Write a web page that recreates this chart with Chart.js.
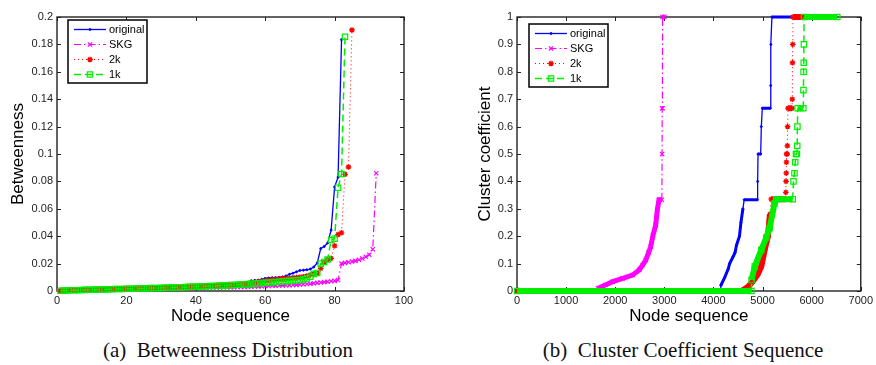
<!DOCTYPE html>
<html>
<head>
<meta charset="utf-8">
<script src="https://cdn.jsdelivr.net/npm/chart.js@4/dist/chart.umd.min.js"></script>
<style>
body { margin: 0; background: #fff; width: 876px; height: 365px; overflow: hidden; position: relative; }
canvas { position: absolute; top: 0; }
#betwChart { left: 0; }
#clusChart { left: 438px; }
.cap { position: absolute; top: 338px; font-family: "Liberation Serif", "Times New Roman", serif; font-size: 21px; color: #111; white-space: nowrap; transform: translateX(-50%); }
</style>
</head>
<body>
<canvas id="betwChart" width="438" height="330"></canvas>
<canvas id="clusChart" width="438" height="330"></canvas>
<div class="cap" style="left:228px">(a)&nbsp; Betweenness Distribution</div>
<div class="cap" style="left:683px">(b)&nbsp; Cluster Coefficient Sequence</div>
<script>
const seriesNames = ['original', 'SKG', '2k', '1k'];

// (a) betweenness, sorted per node (node sequence 1..N)
const betwOriginal = [0.0002,0.0003,0.0004,0.0005,0.0006,0.0007,0.0008,0.0009,0.0010,0.0010,
    0.0011,0.0012,0.0012,0.0013,0.0014,0.0014,0.0015,0.0016,0.0016,0.0017,
    0.0018,0.0018,0.0019,0.0020,0.0020,0.0021,0.0022,0.0022,0.0023,0.0024,
    0.0025,0.0025,0.0026,0.0027,0.0028,0.0029,0.0030,0.0031,0.0032,0.0033,
    0.0034,0.0035,0.0036,0.0037,0.0038,0.0040,0.0041,0.0043,0.0045,0.0047,
    0.0049,0.0051,0.0053,0.0056,0.0060,0.0075,0.0077,0.0079,0.0085,0.0092,
    0.0095,0.0097,0.0098,0.0100,0.0103,0.0110,0.0122,0.0130,0.0140,0.0150,
    0.0152,0.0155,0.0160,0.0175,0.0205,0.0310,0.0325,0.0350,0.0445,0.0760,
    0.0830,0.1835];
const betwSKG = [0.0001,0.0002,0.0003,0.0004,0.0004,0.0005,0.0006,0.0006,0.0007,0.0008,
    0.0008,0.0009,0.0009,0.0010,0.0010,0.0011,0.0011,0.0012,0.0012,0.0013,
    0.0013,0.0014,0.0014,0.0015,0.0015,0.0016,0.0016,0.0017,0.0017,0.0018,
    0.0018,0.0019,0.0019,0.0020,0.0020,0.0021,0.0021,0.0022,0.0022,0.0023,
    0.0023,0.0024,0.0024,0.0025,0.0025,0.0026,0.0026,0.0027,0.0027,0.0028,
    0.0028,0.0029,0.0029,0.0030,0.0031,0.0032,0.0033,0.0034,0.0035,0.0036,
    0.0037,0.0038,0.0039,0.0040,0.0041,0.0042,0.0043,0.0044,0.0045,0.0047,
    0.0049,0.0051,0.0053,0.0056,0.0059,0.0062,0.0065,0.0068,0.0071,0.0074,
    0.0080,0.0200,0.0205,0.0210,0.0215,0.0220,0.0228,0.0237,0.0250,0.0265,
    0.0305,0.0860];
const betw2k = [0.0003,0.0004,0.0005,0.0006,0.0007,0.0007,0.0008,0.0009,0.0010,0.0010,
    0.0011,0.0012,0.0012,0.0013,0.0014,0.0014,0.0015,0.0016,0.0016,0.0017,
    0.0018,0.0018,0.0019,0.0020,0.0020,0.0021,0.0022,0.0023,0.0023,0.0024,
    0.0025,0.0026,0.0026,0.0027,0.0028,0.0029,0.0030,0.0031,0.0032,0.0033,
    0.0034,0.0035,0.0036,0.0037,0.0038,0.0039,0.0040,0.0042,0.0043,0.0045,
    0.0047,0.0049,0.0051,0.0053,0.0055,0.0058,0.0062,0.0066,0.0070,0.0074,
    0.0078,0.0082,0.0085,0.0088,0.0090,0.0092,0.0094,0.0096,0.0098,0.0100,
    0.0104,0.0110,0.0118,0.0125,0.0130,0.0165,0.0210,0.0230,0.0238,0.0330,
    0.0412,0.0425,0.0852,0.0905,0.1905];
const betw1k = [0.0002,0.0003,0.0004,0.0005,0.0006,0.0006,0.0007,0.0008,0.0009,0.0009,
    0.0010,0.0011,0.0011,0.0012,0.0013,0.0013,0.0014,0.0015,0.0015,0.0016,
    0.0017,0.0017,0.0018,0.0019,0.0019,0.0020,0.0021,0.0022,0.0022,0.0023,
    0.0024,0.0025,0.0025,0.0026,0.0027,0.0028,0.0029,0.0030,0.0031,0.0032,
    0.0033,0.0034,0.0035,0.0036,0.0037,0.0038,0.0039,0.0040,0.0041,0.0043,
    0.0044,0.0045,0.0047,0.0048,0.0050,0.0052,0.0054,0.0056,0.0058,0.0060,
    0.0062,0.0064,0.0066,0.0068,0.0070,0.0072,0.0074,0.0076,0.0078,0.0080,
    0.0085,0.0092,0.0105,0.0125,0.0132,0.0200,0.0212,0.0230,0.0372,0.0382,
    0.0754,0.0854,0.1856];

// (b) cluster coefficient sequence, breakpoints (node index, coefficient)
const clusOriginalX = [0,4136,4150,4230,4300,4330,4400,4440,4470,4530,4560,4600,4626,4895,4900,4908,4962,4975,4995,5157,5165,5170,5191,6450];
const clusOriginalY = [0,0,0.02,0.05,0.08,0.1,0.125,0.14,0.167,0.2,0.25,0.3,0.333,0.333,0.4,0.5,0.5,0.6,0.667,0.667,0.75,0.9,1,1];
const clusSKGX = [0,1640,1647,1800,1949,2150,2353,2487,2560,2622,2680,2723,2770,2824,2857,2891,2950,2954,2957,2960,2964,3000];
const clusSKGY = [0,0,0.01,0.022,0.034,0.046,0.058,0.077,0.095,0.113,0.14,0.162,0.204,0.24,0.296,0.333,0.333,0.5,0.667,0.667,1,1];
const clus2kX = [0,4572,4700,4800,4900,4975,5043,5110,5150,5177,5470,5474,5478,5482,5486,5490,5500,5505,5510,5520,5600,5605,5610,5615,5620,6424];
const clus2kY = [0,0,0.015,0.035,0.06,0.09,0.15,0.2,0.28,0.335,0.335,0.36,0.4,0.43,0.47,0.5,0.5,0.53,0.6,0.667,0.667,0.7,0.833,0.9,1,1];
const clus1kX = [0,4773,4776,4842,4975,5076,5144,5244,5278,5614,5630,5650,5665,5681,5700,5706,5710,5715,5830,5833,5836,5839,5842,5845,6522];
const clus1kY = [0,0,0.04,0.09,0.15,0.195,0.23,0.32,0.335,0.335,0.4,0.43,0.47,0.5,0.5,0.53,0.6,0.667,0.667,0.733,0.8,0.833,0.9,1,1];

const betwXTicks = [0, 20, 40, 60, 80, 100];
const betwYTicks = [0, 0.02, 0.04, 0.06, 0.08, 0.1, 0.12, 0.14, 0.16, 0.18, 0.2];
const clusXTicks = [0, 1000, 2000, 3000, 4000, 5000, 6000, 7000];
const clusYTicks = [0, 0.1, 0.2, 0.3, 0.4, 0.5, 0.6, 0.7, 0.8, 0.9, 1];

const styles = [
    { color: '#0000ff', dash: [], width: 1.3, point: 'circle', radius: 1, fill: '#0000ff', pw: 1, band: 3 },
    { color: '#ff00ff', dash: [7, 3, 1.5, 3], width: 1.2, point: 'crossRot', radius: 3, fill: '#ff00ff', pw: 1.2, band: 5 },
    { color: '#ff0000', dash: [1, 3], width: 1, point: 'star', radius: 2.8, fill: '#ff0000', pw: 1.3, band: 6 },
    { color: '#00ee00', dash: [7, 4], width: 1.5, point: 'rect', radius: 3.8, fill: 'rgba(0,0,0,0)', pw: 1.2, band: 6 }
];

function indexed(values) {
    return values.map((v, i) => ({ x: i + 1, y: v }));
}
function paired(xs, ys) {
    return xs.map((x, i) => ({ x: x, y: ys[i] }));
}

const tickFont = { family: '"Liberation Sans", Arial, sans-serif', size: 11 };
const titleFont = { family: '"Liberation Sans", Arial, sans-serif', size: 17 };

const frameTicks = {
    id: 'frameTicks',
    beforeDatasetsDraw(chart) {
        const { ctx, chartArea: a, scales } = chart;
        ctx.save();
        ctx.strokeStyle = '#222';
        ctx.lineWidth = 1;
        ctx.beginPath();
        scales.x.ticks.forEach(t => {
            const px = Math.round(scales.x.getPixelForValue(t.value)) + 0.5;
            ctx.moveTo(px, a.bottom); ctx.lineTo(px, a.bottom - 4);
            ctx.moveTo(px, a.top); ctx.lineTo(px, a.top + 4);
        });
        scales.y.ticks.forEach(t => {
            const py = Math.round(scales.y.getPixelForValue(t.value)) + 0.5;
            ctx.moveTo(a.left, py); ctx.lineTo(a.left + 4, py);
            ctx.moveTo(a.right, py); ctx.lineTo(a.right - 4, py);
        });
        ctx.stroke();
        ctx.lineWidth = 1.4;
        ctx.strokeRect(a.left, a.top, a.right - a.left, a.bottom - a.top);
        ctx.restore();
    }
};

function legendPlugin(box) {
    return {
        id: 'boxLegend',
        afterDraw(chart) {
            const ctx = chart.ctx;
            ctx.save();
            ctx.fillStyle = '#fff';
            ctx.fillRect(box.x, box.y, box.w, box.h);
            ctx.strokeStyle = '#000';
            ctx.lineWidth = 1.5;
            ctx.strokeRect(box.x, box.y, box.w, box.h);
            ctx.font = '11px "Liberation Sans", Arial, sans-serif';
            ctx.textBaseline = 'middle';
            seriesNames.forEach((name, i) => {
                const s = styles[i];
                const yy = box.y + box.first + i * box.step;
                const x1 = box.x + 6, x2 = box.x + 38;
                ctx.strokeStyle = s.color;
                ctx.lineWidth = s.width;
                ctx.setLineDash(s.dash);
                ctx.beginPath(); ctx.moveTo(x1, yy); ctx.lineTo(x2, yy); ctx.stroke();
                ctx.setLineDash([]);
                ctx.fillStyle = s.fill;
                ctx.lineWidth = s.pw;
                Chart.helpers.drawPoint(ctx, { pointStyle: s.point, radius: s.radius, rotation: 0, borderWidth: s.pw }, (x1 + x2) / 2, yy);
                ctx.fillStyle = '#000';
                ctx.fillText(name, x2 + 3, yy);
            });
            ctx.restore();
        }
    };
}

function makeDatasets(dataList, banded) {
    return dataList.map((data, i) => {
        const s = styles[i];
        const ds = {
            label: seriesNames[i],
            data: data,
            order: 4 - i,
            borderColor: s.color,
            borderWidth: s.width,
            borderDash: s.dash,
            pointStyle: s.point,
            pointRadius: s.radius,
            pointBorderWidth: s.pw,
            pointBorderColor: s.color,
            pointBackgroundColor: s.fill,
            tension: 0,
            fill: false,
            clip: 5
        };
        if (banded) {
            // long runs of near-equal nodes show up as a solid band of markers
            ds.segment = {
                borderWidth: c => (c.p1.x - c.p0.x > 1.4 ? s.band : s.width),
                borderDash: c => (c.p1.x - c.p0.x > 1.4 ? [] : s.dash)
            };
        }
        return ds;
    });
}

function makeOptions(xTicks, yTicks, yTitle, pad, yWidth) {
    return {
        responsive: false,
        animation: false,
        devicePixelRatio: 1,
        layout: { padding: pad },
        plugins: { legend: { display: false }, tooltip: { enabled: false } },
        scales: {
            x: {
                type: 'linear',
                min: xTicks[0], max: xTicks[xTicks.length - 1],
                afterBuildTicks: sc => { sc.ticks = xTicks.map(v => ({ value: v })); },
                afterFit: sc => { sc.height = 39; },
                grid: { display: false, drawTicks: false },
                border: { display: false },
                ticks: { color: '#222', font: tickFont, padding: 3, maxRotation: 0, callback: v => String(v) },
                title: { display: true, text: 'Node sequence', color: '#000', font: titleFont, padding: { top: 0, bottom: 3 } }
            },
            y: {
                type: 'linear',
                min: yTicks[0], max: yTicks[yTicks.length - 1],
                afterBuildTicks: sc => { sc.ticks = yTicks.map(v => ({ value: v })); },
                afterFit: sc => { sc.width = yWidth; },
                grid: { display: false, drawTicks: false },
                border: { display: false },
                ticks: { color: '#222', font: tickFont, padding: 4, callback: v => String(+v.toFixed(2)) },
                title: { display: true, text: yTitle, color: '#000', font: titleFont, padding: { top: 0, bottom: 0 } }
            }
        }
    };
}

new Chart(document.getElementById('betwChart'), {
    type: 'line',
    data: { datasets: makeDatasets([indexed(betwOriginal), indexed(betwSKG), indexed(betw2k), indexed(betw1k)], false) },
    options: makeOptions(betwXTicks, betwYTicks, 'Betweenness', { top: 17, right: 34, left: 8, bottom: 0 }, 49),
    plugins: [frameTicks, legendPlugin({ x: 68, y: 20, w: 79, h: 63, first: 9.5, step: 15 })]
});

new Chart(document.getElementById('clusChart'), {
    type: 'line',
    data: { datasets: makeDatasets([paired(clusOriginalX, clusOriginalY), paired(clusSKGX, clusSKGY), paired(clus2kX, clus2kY), paired(clus1kX, clus1kY)], true) },
    options: makeOptions(clusXTicks, clusYTicks, 'Cluster coefficient', { top: 17, right: 12, left: 37, bottom: 0 }, 42),
    plugins: [frameTicks, legendPlugin({ x: 91, y: 24, w: 79, h: 63, first: 9.5, step: 15 })]
});
</script>
</body>
</html>
